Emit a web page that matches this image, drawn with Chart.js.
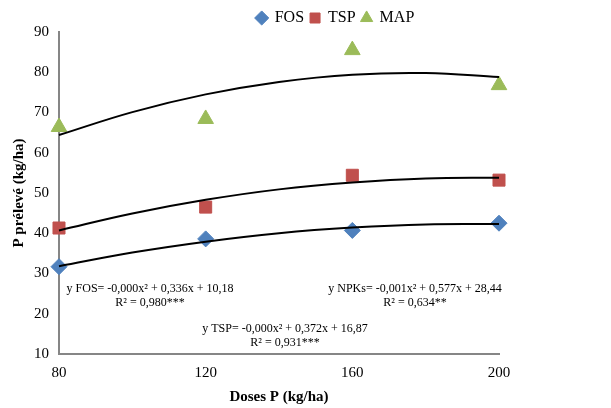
<!DOCTYPE html>
<html lang="fr">
<head>
<meta charset="UTF-8">
<title>P prélevé</title>
<script src="https://cdn.jsdelivr.net/npm/chart.js"></script>
<style>
  html, body { margin: 0; padding: 0; background: #fff; }
  #wrap { width: 611px; height: 408px; }
</style>
</head>
<body>
<div id="wrap"><canvas id="chart"></canvas></div>
<script>
// doses P (kg/ha)
const doses = [80, 120, 160, 200];
const fos = [31.7, 38.6, 40.7, 42.5];
const tsp = [41.3, 46.5, 54.4, 53.2];
const map = [66.4, 68.4, 85.5, 76.8];

// polynomial trend curves, sampled every 20 kg/ha
const trendDoses = [80, 100, 120, 140, 160, 180, 200];
const fosTrend = [31.8, 35.2, 37.9, 40.0, 41.4, 42.2, 42.3];
const tspTrend = [40.7, 44.9, 48.3, 50.9, 52.6, 53.6, 53.8];
const mapTrend = [64.4, 70.1, 74.5, 77.6, 79.4, 79.8, 78.8];

const yTicks = [10, 20, 30, 40, 50, 60, 70, 80, 90];

const equations = [
  { x: 150, y: 289, lines: ['y FOS= -0,000x² + 0,336x + 10,18', 'R² = 0,980***'] },
  { x: 415, y: 289, lines: ['y NPKs= -0,001x² + 0,577x + 28,44', 'R² = 0,634**'] },
  { x: 285, y: 329, lines: ['y TSP= -0,000x² + 0,372x + 16,87', 'R² = 0,931***'] }
];

const serif = '"Liberation Serif", "DejaVu Serif", serif';

const pts = (xs, ys) => xs.map((x, i) => ({ x: x, y: ys[i] }));

function trend(data) {
  return {
    label: 'trend',
    data: data,
    showLine: true,
    borderColor: '#000',
    borderWidth: 2,
    pointRadius: 0,
    tension: 0.4,
    fill: false
  };
}

const equationText = {
  id: 'equationText',
  afterDatasetsDraw(chart) {
    const ctx = chart.ctx;
    ctx.save();
    ctx.fillStyle = '#000';
    ctx.font = '12px ' + serif;
    ctx.textAlign = 'center';
    ctx.textBaseline = 'middle';
    equations.forEach(eq => {
      eq.lines.forEach((t, i) => ctx.fillText(t, eq.x, eq.y + i * 14));
    });
    ctx.restore();
  }
};

// legend sits right of centre, a little lower than the default
const legendShift = {
  id: 'legendShift',
  afterLayout(chart) {
    const lg = chart.legend;
    if (!lg) return;
    lg.left += 83;
    lg.right += 83;
    lg.top += 4;
    lg.bottom += 4;
  }
};

new Chart(document.getElementById('chart'), {
  type: 'scatter',
  data: {
    datasets: [
      trend(pts(trendDoses, fosTrend)),
      trend(pts(trendDoses, tspTrend)),
      trend(pts(trendDoses, mapTrend)),
      {
        label: 'FOS',
        data: pts(doses, fos),
        pointStyle: 'rectRot',
        pointRadius: 8,
        backgroundColor: '#4F81BD',
        borderColor: '#4F81BD'
      },
      {
        label: 'TSP',
        data: pts(doses, tsp),
        pointStyle: 'rect',
        pointRadius: 8.5,
        backgroundColor: '#C0504D',
        borderColor: '#C0504D'
      },
      {
        label: 'MAP',
        data: pts(doses, map),
        pointStyle: 'triangle',
        pointRadius: 9,
        backgroundColor: '#9BBB59',
        borderColor: '#9BBB59'
      }
    ]
  },
  options: {
    responsive: true,
    maintainAspectRatio: false,
    animation: false,
    clip: false,
    layout: { padding: { left: 6, right: 112, top: 0, bottom: 0 } },
    plugins: {
      tooltip: { enabled: false },
      legend: {
        position: 'top',
        labels: {
          usePointStyle: true,
          boxWidth: 10,
          boxHeight: 10,
          padding: 6,
          color: '#000',
          font: { family: serif, size: 16 },
          filter: item => item.text !== 'trend'
        }
      }
    },
    scales: {
      x: {
        type: 'linear',
        min: 80,
        max: 200,
        grid: { display: false, drawTicks: true, tickLength: 6, tickColor: '#868686' },
        border: { color: '#868686', width: 2 },
        ticks: { stepSize: 40, color: '#000', font: { family: serif, size: 15 }, padding: 4 },
        title: {
          display: true,
          text: 'Doses P (kg/ha)',
          color: '#000',
          font: { family: serif, size: 15, weight: 'bold' },
          padding: { top: 2, bottom: 2 }
        }
      },
      y: {
        min: 10,
        max: 90,
        afterBuildTicks: axis => { axis.ticks = yTicks.map(v => ({ value: v })); },
        grid: { display: false, drawTicks: true, tickLength: 6, tickColor: '#868686' },
        border: { color: '#868686', width: 2 },
        ticks: { color: '#000', font: { family: serif, size: 15 }, padding: 4 },
        title: {
          display: true,
          text: 'P prélevé (kg/ha)',
          color: '#000',
          font: { family: serif, size: 15, weight: 'bold' },
          padding: { bottom: 2 }
        }
      }
    }
  },
  plugins: [equationText, legendShift]
});
</script>
</body>
</html>
